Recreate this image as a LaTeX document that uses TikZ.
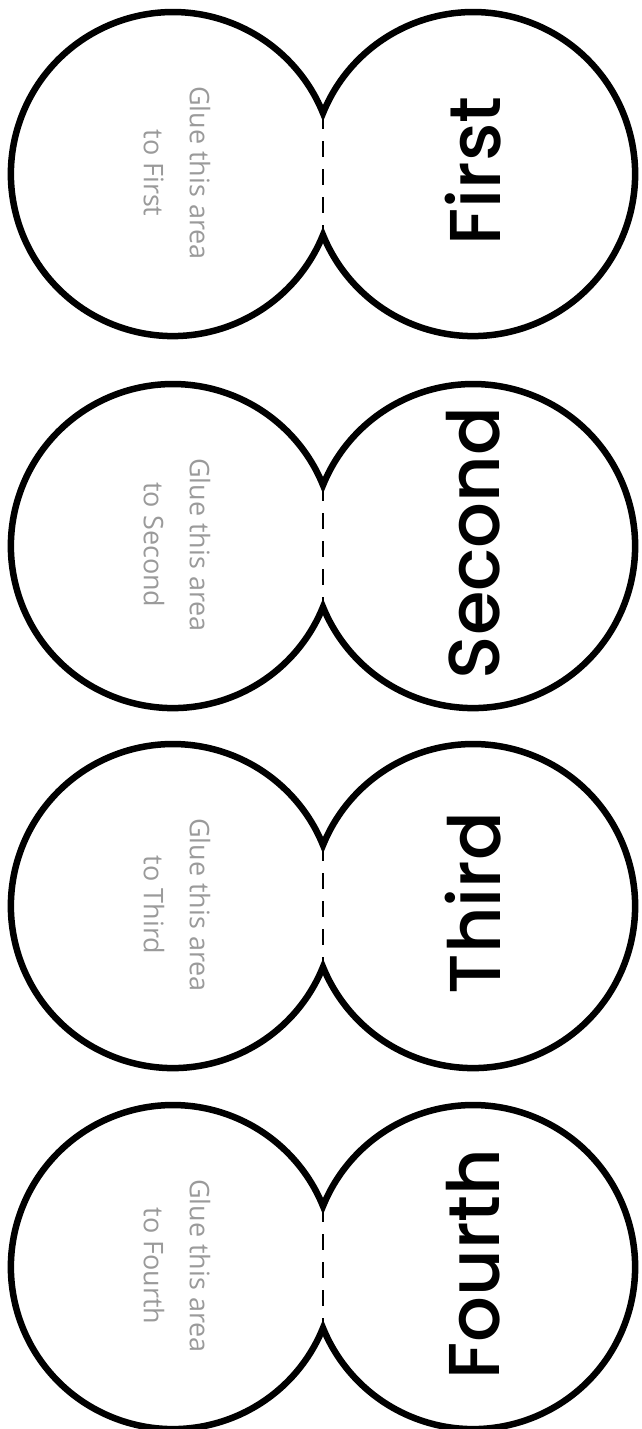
\documentclass[tikz,border=0pt]{standalone}
\usepackage{fontspec}
\usepackage{tikz}
\newfontfamily\gluefont{Open Sans}
\newfontfamily\wordfont{Poppins Medium}
\definecolor{gluegray}{HTML}{9A9A9A}

\begin{document}
\begin{tikzpicture}[x=1pt, y=-1pt,
    outline/.style={line width=6.5pt, line join=miter},
    foldline/.style={line width=2.7pt, dash pattern=on 16pt off 12pt},
    gluetext/.style={text=gluegray, align=center, rotate=-90,
        font={\gluefont\fontsize{27}{46}\selectfont}},
    wordtext/.style={rotate=90, font={\wordfont\fontsize{72}{72}\selectfont}}]
    \useasboundingbox (0,0) rectangle (642,1429);
    \foreach \cy/\word [count=\i] in {174/First, 546/Second, 906/Third, 1267/Fourth} {
        % dos circulos que se cortan, la linea de doblez en el medio
        \coordinate (top\i) at (323,\cy-61);
        \coordinate (bot\i) at (323,\cy+61);
        \draw[outline] (bot\i) arc[start angle=22.1, end angle=337.9, radius=162]
            arc[start angle=202.1, end angle=517.9, radius=162] -- cycle;
        \draw[foldline] (top\i) -- (bot\i);
        \node[gluetext] (glue\i) at (177,\cy-1) {Glue this area\\to \word};
        \node[wordtext] (word\i) at (473,\cy-3) {\word};
    }
\end{tikzpicture}
\end{document}
